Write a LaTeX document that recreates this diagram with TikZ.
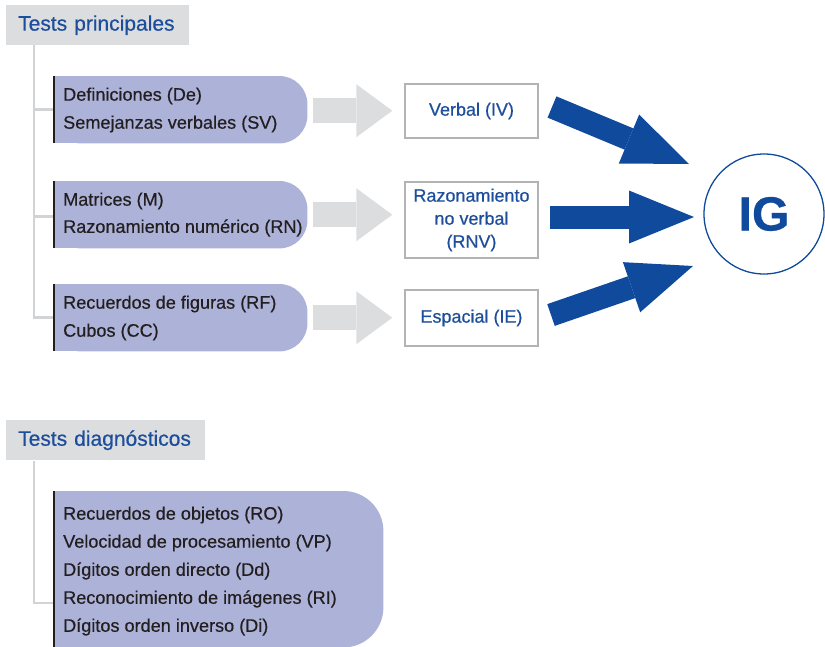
\documentclass[tikz,border=0pt]{standalone}
\usepackage{fontspec}
\setmainfont{Liberation Sans}[FakeBold=0.5]
\newfontfamily\igfont{Liberation Sans Bold}[FakeBold=0.6]
\usetikzlibrary{arrows.meta,calc}

\definecolor{titlegray}{HTML}{DCDDDF}
\definecolor{treegray}{HTML}{D2D3D5}
\definecolor{lilac}{HTML}{ADB2D8}
\definecolor{navy}{HTML}{0F4A9C}
\definecolor{ink}{HTML}{231F20}
\definecolor{boxedge}{HTML}{B3B3B3}
\definecolor{txtblue}{HTML}{1D4E9B}

\begin{document}
\begin{tikzpicture}[x=1pt,y=-1pt,
  heading/.style={fill=titlegray, text=txtblue, font=\fontsize{21}{24}\selectfont,
    anchor=north west, inner xsep=12pt, inner ysep=0pt, minimum height=40pt, align=left},
  tree/.style={draw=treegray, line width=2.6pt},
  testbar/.style={draw=ink, line width=2.6pt},
  slot/.style={rectangle, inner sep=0pt, anchor=north west},
  item/.style={anchor=west, inner sep=0pt, text=ink, font=\fontsize{18.1}{21}\selectfont},
  index/.style={draw=boxedge, line width=1.4pt, fill=white, text=txtblue, align=center,
    minimum width=133pt, font=\fontsize{18}{23}\selectfont, inner sep=0pt},
  grayarrow/.style={draw=titlegray, line width=25pt,
    -{Triangle[length=36pt, width=53pt, line width=0pt]}},
  bluearrow/.style={draw=navy, line width=23pt,
    -{Triangle[length=65pt, width=53pt, line width=0pt]}},
]
\useasboundingbox (0,0) rectangle (825,646);

% ---------- Tests principales ----------
\node[heading, text width=159pt] (t1) at (6,5) {Tests principales};
\coordinate (trunk1) at (34,45);

\foreach \n/\top in {p1/76, p2/181, p3/284}{
  \node[slot, minimum width=254pt, minimum height=67pt] (\n) at (53,\top) {};
  \fill[lilac] (\n.north west) rectangle ($(\n.south east)+(-60,0)$);
  \fill[lilac, rounded corners=28pt] (\n.north west) rectangle (\n.south east);
  \draw[testbar] ($(\n.north west)+(1,0)$) -- ($(\n.south west)+(1,0)$);
}

% tree of the principal tests
\draw[tree] (trunk1) -- (trunk1 |- p3.west) -- (p3.west);
\draw[tree] (trunk1 |- p1.west) -- (p1.west);
\draw[tree] ($(trunk1 |- p2.west)+(0,2)$) -- ($(p2.west)+(0,2)$);

\node[item] (de) at (63,96) {Definiciones (De)};
\node[item] (sv) at (63,124) {Semejanzas verbales (SV)};
\node[item] (m)  at (63,201) {Matrices (M)};
\node[item] (rn) at (63,228) {Razonamiento numérico (RN)};
\node[item] (rf) at (63,304) {Recuerdos de figuras (RF)};
\node[item] (cc) at (63,332) {Cubos (CC)};

% ---------- indices ----------
\node[index, minimum height=54pt] (iv)  at (471.5,111) {Verbal (IV)};
\node[index, minimum height=76pt] (rnv) at (471.5,220) {Razonamiento\\no verbal\\(RNV)};
\node[index, minimum height=56pt] (ie)  at (471.5,318) {Espacial (IE)};

\draw[grayarrow, shorten <=6pt, shorten >=12pt] ($(p1.east)+(0,1)$) -- ($(p1.east -| iv.west)+(0,1)$);
\draw[grayarrow, shorten <=6pt, shorten >=12pt] (p2.east) -- (p2.east -| rnv.west);
\draw[grayarrow, shorten <=6pt, shorten >=12pt] (p3.east) -- (p3.east -| ie.west);

% ---------- IG ----------
\node[circle, draw=navy, line width=1.3pt, minimum size=120pt, inner sep=0pt,
  text=navy, font=\igfont\fontsize{48}{50}\selectfont] (ig) at (764,214) {IG};

\coordinate (a1s) at (552,107);
\coordinate (a1e) at (689,164);
\coordinate (a2s) at (550,217);
\coordinate (a2e) at (694,217);
\coordinate (a3s) at (551,315);
\coordinate (a3e) at (693,266);
\draw[bluearrow] (a1s) -- (a1e);
\draw[bluearrow] (a2s) -- (a2e);
\draw[bluearrow] (a3s) -- (a3e);

% ---------- Tests diagnósticos ----------
\node[heading, text width=175pt] (t2) at (6,420) {Tests diagnósticos};
\coordinate (trunk2) at (34,461);

\node[slot, minimum width=330pt, minimum height=156pt] (pd) at (53,491) {};
\fill[lilac] (pd.north west) rectangle ($(pd.south east)+(-80,0)$);
\fill[lilac, rounded corners=40pt] (pd.north west) rectangle (pd.south east);
\draw[testbar] ($(pd.north west)+(1,0)$) -- ($(pd.south west)+(1,0)$);

\draw[tree] (trunk2) |- (53,603);

\node[item] (ro) at (63,515) {Recuerdos de objetos (RO)};
\node[item] (vp) at (63,543) {Velocidad de procesamiento (VP)};
\node[item] (dd) at (63,571) {Dígitos orden directo (Dd)};
\node[item] (ri) at (63,599) {Reconocimiento de imágenes (RI)};
\node[item] (di) at (63,627) {Dígitos orden inverso (Di)};
\end{tikzpicture}
\end{document}
